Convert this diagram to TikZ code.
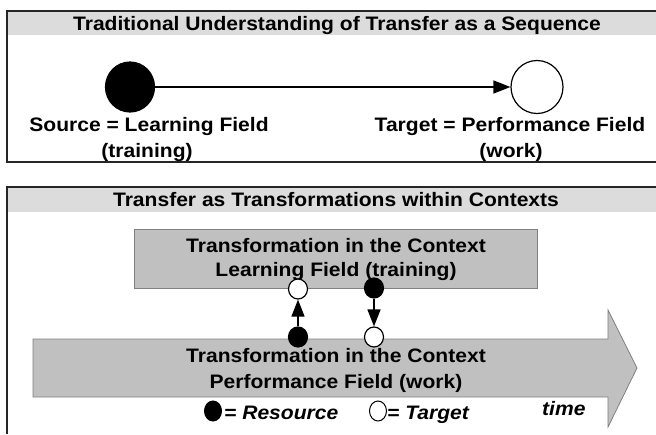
\documentclass[tikz,border=0pt]{standalone}
\usepackage{fontspec}
\setmainfont{Liberation Sans}[FakeStretch=1.08]
\usetikzlibrary{arrows.meta,shapes.geometric}
\definecolor{hdr}{HTML}{DCDCDC}
\definecolor{boxg}{HTML}{C0C0C0}
\definecolor{boxb}{HTML}{808080}
\begin{document}
\begin{tikzpicture}[x=1pt,y=-1pt,
  txt/.style={font=\fontsize{19.5}{24}\selectfont\bfseries, inner sep=0pt, anchor=base},
  ttl/.style={font=\fontsize{19.5}{23}\selectfont\bfseries, inner sep=0pt, anchor=base},
  leg/.style={font=\fontsize{19.5}{24}\selectfont\bfseries\itshape, inner sep=0pt, anchor=base west},
  dotb/.style={ellipse, draw, fill=black, line width=1.2pt, inner sep=0pt},
  dotw/.style={ellipse, draw, fill=white, line width=1.2pt, inner sep=0pt},
  frame/.style={line width=1.3pt, draw=black!85},
  flow/.style={line width=1.6pt, -{Triangle[length=17pt,width=13pt]}},
  gbox/.style={draw=boxb, fill=boxg, line width=0.8pt},
]
\useasboundingbox (0,0) rectangle (656,434);
% ---------- top panel ----------
\fill[hdr] (7,11) rectangle (656,35);
\draw[frame] (656,11) -- (7,11) -- (7,162) -- (656,162);
\node[ttl] (title1) at (337,30) {Traditional Understanding of Transfer as a Sequence};
\node[dotb, minimum width=49pt, minimum height=50pt] (src) at (130,87) {};
\node[dotw, minimum width=52pt, minimum height=53pt] (tgt) at (537,87) {};
\draw[flow] (src) -- (tgt);
\node[txt] (srcA) at (149,131) {Source = Learning Field};
\node[txt] (srcB) at (147,157) {(training)};
\node[txt] (tgtA) at (510,131) {Target = Performance Field};
\node[txt] (tgtB) at (511,157) {(work)};
% ---------- bottom panel ----------
\fill[hdr] (7,187) rectangle (656,212);
\draw[frame] (656,187) -- (7,187) -- (7,434);
\node[ttl] (title2) at (336,206) {Transfer as Transformations within Contexts};
\node[gbox, minimum width=403pt, minimum height=59pt, inner sep=0pt] (lbox) at (335.5,258.5) {};
\node[txt] (lboxA) at (336,252) {Transformation in the Context};
\node[txt] (lboxB) at (336,276) {Learning Field (training)};
\draw[gbox] (33,339) -- (608,339) -- (608,310) -- (637,368) -- (608,427) -- (608,397) -- (33,397) -- cycle;
\node[txt] (pA) at (336,362) {Transformation in the Context};
\node[txt] (pB) at (336,388) {Performance Field (work)};
\node[dotw, minimum width=19pt, minimum height=20pt] (tw) at (298,289) {};
\node[dotb, minimum width=19pt, minimum height=20pt] (tb) at (374,288) {};
\node[dotb, minimum width=19pt, minimum height=20pt] (bb) at (298,337) {};
\node[dotw, minimum width=19pt, minimum height=20pt] (bw) at (374,337) {};
\draw[flow] (bb) -- (tw);
\draw[flow] (tb) -- (bw);
% legend
\node[dotb, minimum width=17pt, minimum height=20pt, line width=1pt] (lgb) at (213,411) {};
\node[leg] (lgbt) at (224,419) {= Resource};
\node[dotw, minimum width=17pt, minimum height=20pt, line width=1pt] (lgw) at (378,411) {};
\node[leg] (lgwt) at (387,419) {= Target};
\node[leg] (time) at (542,415) {time};
\end{tikzpicture}
\end{document}
